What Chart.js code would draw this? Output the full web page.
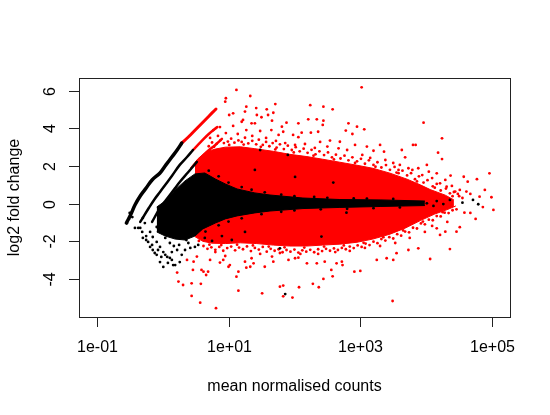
<!DOCTYPE html>
<html>
<head>
<meta charset="utf-8">
<script src="https://cdn.jsdelivr.net/npm/chart.js@4.4.1/dist/chart.umd.min.js"></script>
<style>
  html, body { margin: 0; padding: 0; background: #fff; }
  #wrap { width: 550px; height: 415px; }
</style>
</head>
<body>
<div id="wrap"><canvas id="ma" width="550" height="415"></canvas></div>
<script>
// every pair is [log10 of mean normalised count, log2 fold change]

// outline of the solid red cloud (significant genes)
var redCloudTop = [[0.42,1.90],[0.54,2.40],[0.66,2.75],[0.80,2.90],[0.95,3.00],[1.18,3.02],[1.40,2.92],[1.68,2.78],[1.93,2.62],[2.19,2.50],[2.43,2.36],[2.69,2.20],[2.95,2.04],[3.19,1.88],[3.45,1.62],[3.71,1.30],[3.91,1.00],[4.06,0.75],[4.29,0.45],[4.42,0.20]];
var redCloudBottom = [[0.49,-1.75],[0.61,-2.00],[0.75,-2.10],[0.95,-2.12],[1.18,-2.08],[1.43,-2.12],[1.68,-2.20],[1.93,-2.25],[2.19,-2.25],[2.43,-2.20],[2.69,-2.15],[2.95,-2.05],[3.19,-1.88],[3.45,-1.62],[3.68,-1.30],[3.91,-0.90],[4.13,-0.55],[4.33,-0.30],[4.45,-0.12]];

// outline of the solid black core (not significant)
var blackCoreTop = [[-0.09,-0.18],[0.04,0.14],[0.19,0.73],[0.34,1.21],[0.49,1.58],[0.64,1.63],[0.80,1.31],[0.95,1.05],[1.13,0.78],[1.40,0.57],[1.63,0.46],[2.13,0.30],[2.69,0.22],[3.30,0.20],[3.98,0.14]];
var blackCoreBottom = [[-0.09,-1.50],[0.04,-1.72],[0.19,-1.88],[0.34,-1.93],[0.49,-1.72],[0.61,-1.34],[0.80,-1.03],[0.95,-0.81],[1.13,-0.65],[1.40,-0.49],[1.63,-0.39],[2.13,-0.26],[2.69,-0.20],[3.30,-0.15],[3.98,-0.10]];

// low count bands (zero in one group)
var band1Black = [[-0.55,-1.03],[-0.48,-0.55],[-0.42,-0.07],[-0.34,0.41],[-0.25,0.83],[-0.16,1.26],[-0.04,1.63],[0.05,2.06],[0.14,2.48],[0.22,2.85],[0.29,3.22]];
var band1Red = [[0.29,3.22],[0.39,3.54],[0.48,3.86],[0.57,4.18],[0.66,4.50],[0.75,4.82],[0.81,5.03]];
var band2Black = [[-0.34,-0.97],[-0.21,-0.23],[-0.12,0.25],[-0.04,0.62],[0.05,1.05],[0.14,1.47],[0.26,2.06],[0.37,2.48],[0.46,2.85]];
var band2Red = [[0.46,2.85],[0.58,3.28],[0.70,3.70],[0.83,4.07]];
var band3Black = [[-0.16,-0.97],[-0.04,-0.23],[0.04,0.14],[0.11,0.46],[0.19,0.83],[0.26,1.15],[0.39,1.68],[0.52,2.22]];
var band3Red = [[0.52,2.22],[0.67,2.75],[0.80,3.12],[0.90,3.44]];

// single genes outside the solid areas
var redUp = [[3.02,6.18],[1.12,6.04],[1.33,5.72],[1.27,5.15],[1.25,4.89],[1.42,5.08],[1.43,4.71],[1.58,5.01],[1.71,5.29],[1.68,4.83],[2.24,5.23],[2.44,5.15],[2.58,5.01],[1.22,4.45],[1.40,4.27],[1.50,4.59],[1.66,4.41],[1.65,3.91],[1.81,4.09],[1.88,4.30],[2.06,4.27],[2.21,4.48],[2.34,4.48],[2.44,4.41],[2.43,4.18],[2.36,3.82],[2.25,3.77],[2.11,3.77],[2.06,3.53],[1.98,3.65],[1.83,3.82],[1.76,3.65],[2.82,4.27],[2.78,3.88],[2.95,4.09],[3.06,3.95],[2.88,3.70],[3.96,4.30],[4.24,3.47],[2.54,3.35],[2.69,3.29],[2.50,3.03],[2.67,2.94],[2.92,3.12],[2.80,2.85],[3.10,3.03],[3.20,2.81],[3.30,3.12],[3.36,2.76],[3.63,2.85],[3.80,3.12],[3.84,3.12],[3.68,2.46],[4.18,2.71],[4.24,2.37],[3.58,1.79],[3.73,1.88],[3.88,1.88],[4.01,2.06],[4.04,1.70],[4.16,1.61],[4.37,1.49],[4.57,1.43],[4.77,1.30],[4.96,1.61],[4.63,1.17],[4.44,0.64],[4.61,0.64],[4.81,0.37],[4.99,0.34],[4.31,0.90],[4.21,1.08],[0.96,5.60],[0.95,5.42],[1.07,4.80],[1.01,4.71],[1.60,4.71],[1.20,4.35],[1.35,4.27],[0.77,3.91],[0.87,4.07],[0.96,3.75],[1.07,4.13],[1.14,3.70],[1.27,3.91],[1.36,3.60],[1.48,3.86],[1.57,3.49],[0.72,3.49],[0.84,3.60],[1.72,3.33],[1.86,3.22],[2.01,3.12],[2.16,3.17],[2.31,2.96],[2.39,3.28],[3.03,2.59],[3.15,2.43],[3.38,2.32],[3.50,2.16],[3.60,2.06],[3.79,1.79],[3.94,1.52],[4.09,1.36],[4.29,1.26],[4.39,0.94],[4.51,0.73],[4.67,0.52],[4.48,0.52],[4.89,0.73]];
// ragged upper rim of the red cloud
var redUpRim = [[0.70,3.05],[0.75,3.25],[0.82,3.18],[0.88,3.38],[0.93,3.22],[0.99,3.30],[1.04,3.45],[1.09,3.24],[1.15,3.36],[1.20,3.28],[1.25,3.50],[1.30,3.20],[1.36,3.34],[1.42,3.15],[1.46,3.40],[1.52,3.12],[1.57,3.28],[1.62,3.05],[1.67,3.22],[1.73,2.98],[1.78,3.15],[1.84,2.90],[1.90,3.08],[1.96,2.85],[2.02,3.00],[2.08,2.78],[2.14,2.92],[2.20,2.70],[2.26,2.86],[2.32,2.62],[2.38,2.78],[2.45,2.58],[2.51,2.72],[2.57,2.46],[2.63,2.60],[2.70,2.40],[2.76,2.55],[2.82,2.30],[2.88,2.46],[2.95,2.25],[3.01,2.38],[3.07,2.12],[3.13,2.30],[3.20,2.06],[3.26,2.20],[3.32,1.92],[3.39,2.05],[3.45,1.80],[3.52,1.95],[3.58,1.62],[3.64,1.75],[3.71,1.50],[3.77,1.62],[3.83,1.30],[3.89,1.45],[3.96,1.12],[4.02,1.25],[4.10,0.92],[4.16,1.05],[4.22,0.70],[4.30,0.80],[4.36,0.55],[4.42,0.62],[4.50,0.40],[4.55,0.30],[0.78,3.02],[1.01,3.12],[1.23,3.14],[1.49,3.02],[1.71,2.88],[1.99,2.72],[2.29,2.55],[2.60,2.35],[2.92,2.16],[3.23,1.96],[3.55,1.65],[3.86,1.18],[4.13,0.85],[4.40,0.40]];
var redDown = [[5.02,-0.33],[4.75,-0.81],[4.51,-1.25],[4.36,-2.41],[4.06,-2.94],[4.21,-1.66],[3.88,-2.37],[3.49,-5.17],[3.00,-3.57],[2.91,-3.61],[2.58,-3.86],[2.56,-3.52],[2.44,-4.00],[2.37,-4.44],[2.28,-4.26],[2.07,-4.44],[1.97,-4.99],[1.83,-4.92],[1.83,-4.35],[1.51,-4.76],[1.27,-3.40],[1.25,-3.08],[1.38,-3.17],[1.55,-3.35],[1.35,-2.90],[1.68,-3.08],[1.91,-2.99],[2.19,-3.17],[2.34,-3.17],[2.46,-3.08],[2.64,-3.17],[2.72,-3.08],[1.66,-2.81],[2.01,-2.90],[2.06,-2.87],[3.25,-2.99],[3.40,-2.90],[3.50,-2.99],[3.55,-2.63],[3.73,-2.46],[0.22,-3.66],[0.24,-4.14],[0.31,-4.32],[0.44,-4.90],[0.57,-5.26],[0.81,-5.55],[0.44,-4.23],[0.58,-4.26],[0.46,-3.52],[0.62,-3.61],[0.66,-3.79],[1.12,-3.88],[1.15,-4.62],[1.78,-4.41],[0.87,-3.13],[1.00,-3.35],[1.33,-3.35],[0.37,-2.99],[0.52,-2.81],[0.72,-2.99],[0.59,-3.52],[0.69,-3.61],[0.47,-3.08],[1.15,-3.61],[0.92,-2.99],[1.02,-3.26],[4.58,-0.48],[4.46,-1.49],[4.29,-1.49],[4.16,-1.31],[2.73,-3.26],[0.80,-2.57],[0.95,-2.78],[1.48,-2.67],[1.78,-2.62],[2.09,-2.67],[2.36,-2.67],[2.62,-2.57],[2.84,-2.51],[3.07,-2.35],[3.30,-2.25],[3.53,-2.09],[3.75,-1.82],[3.98,-1.50],[4.09,-1.18],[4.32,-0.97],[4.67,-0.49],[4.86,-0.18]];
// ragged lower rim of the red cloud
var redDownRim = [[0.62,-2.25],[0.68,-2.40],[0.74,-2.32],[0.80,-2.45],[0.86,-2.30],[0.92,-2.50],[0.98,-2.36],[1.04,-2.28],[1.10,-2.48],[1.16,-2.33],[1.22,-2.42],[1.28,-2.27],[1.34,-2.52],[1.40,-2.35],[1.46,-2.44],[1.52,-2.30],[1.58,-2.55],[1.64,-2.40],[1.70,-2.50],[1.76,-2.42],[1.82,-2.58],[1.88,-2.46],[1.94,-2.55],[2.00,-2.44],[2.06,-2.60],[2.12,-2.48],[2.18,-2.55],[2.24,-2.45],[2.30,-2.58],[2.36,-2.42],[2.42,-2.52],[2.48,-2.40],[2.54,-2.50],[2.60,-2.38],[2.66,-2.46],[2.72,-2.35],[2.78,-2.42],[2.84,-2.28],[2.90,-2.36],[2.96,-2.22],[3.02,-2.30],[3.08,-2.12],[3.14,-2.20],[3.20,-2.02],[3.26,-2.10],[3.32,-1.88],[3.38,-1.96],[3.44,-1.78],[3.50,-1.85],[3.56,-1.62],[3.62,-1.70],[3.68,-1.48],[3.74,-1.52],[3.80,-1.28],[3.86,-1.32],[3.92,-1.05],[3.98,-1.10],[4.04,-0.85],[4.10,-0.88],[4.16,-0.66],[4.22,-0.68],[4.28,-0.48],[4.34,-0.50],[4.40,-0.35],[4.46,-0.30],[0.55,-1.98],[0.71,-2.18],[0.89,-2.20],[1.13,-2.18],[1.37,-2.22],[1.61,-2.28],[1.85,-2.32],[2.15,-2.33],[2.45,-2.28],[2.75,-2.22],[3.05,-2.08],[3.35,-1.78],[3.65,-1.42],[3.95,-0.95],[4.25,-0.45]];
var blackSingles = [[-0.54,-1.03],[-0.51,-0.81],[-0.50,-0.49],[-0.46,-0.71],[-0.30,-0.76],[-0.27,-1.03],[-0.31,-1.50],[-0.30,-1.82],[-0.22,-2.03],[-0.19,-2.30],[-0.15,-2.46],[-0.09,-2.72],[-0.04,-3.10],[0.01,-3.36],[-0.19,-1.50],[-0.15,-1.77],[-0.09,-2.03],[-0.04,-2.30],[0.01,-2.57],[0.07,-2.83],[0.14,-2.99],[0.19,-3.26],[-0.09,-1.24],[-0.01,-1.50],[0.04,-1.82],[0.11,-2.09],[0.22,-2.46],[0.29,-2.72],[0.08,-1.13],[0.22,-1.50],[0.29,-1.77],[0.39,-2.09],[0.49,-2.30],[-0.37,-1.29],[-0.42,-1.29],[-0.25,-1.72],[0.08,-3.15],[0.34,-2.46],[0.42,-2.35],[-0.12,-2.62],[0.16,-3.26],[-0.34,-1.29],[-0.25,-1.93],[-0.16,-2.19],[-0.07,-2.46],[-0.02,-2.83],[0.04,-2.72],[0.11,-2.88],[0.25,-2.19],[0.36,-1.93],[0.17,-2.25],[0.26,-3.10],[0.14,-2.57],[4.36,0.20],[4.55,0.05],[4.71,0.20],[4.79,-0.03],[4.26,-0.02],[4.11,-0.12],[4.01,0.02],[4.16,0.14],[2.79,-0.48],[2.59,1.12],[1.86,-4.80],[1.78,-2.37],[2.41,-1.75],[1.48,2.85],[1.90,2.59],[2.01,1.42],[1.40,1.79],[0.64,-1.82],[0.75,-1.98],[0.90,-1.72],[1.05,-1.93],[1.25,-1.50],[0.54,-2.19],[0.70,1.75],[0.85,1.45],[1.00,1.12],[1.20,0.88],[1.35,0.74],[1.55,0.60],[1.80,0.48],[2.00,0.40],[2.30,0.36],[2.50,0.31],[2.90,0.28],[3.10,0.27],[3.50,0.25],[0.65,-1.48],[0.85,-1.15],[1.00,-0.95],[1.20,-0.78],[1.50,-0.56],[1.80,-0.43],[2.00,-0.36],[2.40,-0.30],[2.80,-0.27],[3.20,-0.24],[3.60,-0.20]];

var xTicks = [0.1, 10, 1000, 100000];
var xTickLabels = ["1e-01", "1e+01", "1e+03", "1e+05"];
var yTicks = [-4, -2, 0, 2, 4, 6];
var yTickLabels = ["-4", "-2", "0", "2", "4", "6"];

const RED = "#ff0000";
const BLACK = "#000000";
const FONT = '16px "Liberation Sans", Arial, Helvetica, sans-serif';

function pts(list) {
    return list.map(function(p) { return {x: Math.pow(10, p[0]), y: p[1]}; });
}

function outline(list, color, fill, order) {
    return {data: pts(list), showLine: true, borderColor: color, backgroundColor: color, borderWidth: 1,
            pointRadius: 0, fill: fill, order: order};
}

function band(list, color, width) {
    return {data: pts(list), showLine: true, borderColor: color, borderWidth: width, tension: 0.4,
            borderCapStyle: "round", borderJoinStyle: "round", pointRadius: 0, fill: false, order: 1};
}

function dots(list, color, order) {
    return {data: pts(list), pointRadius: 1.4, pointBorderWidth: 0, pointBackgroundColor: color,
            backgroundColor: color, borderColor: color, order: order};
}

// R style box, ticks and labels
const rFrame = {
    id: "rFrame",
    afterDraw(chart) {
        const ctx = chart.ctx, a = chart.chartArea, sx = chart.scales.x, sy = chart.scales.y;
        ctx.save();
        ctx.strokeStyle = "#222";
        ctx.lineWidth = 1;
        ctx.strokeRect(a.left + 0.5, a.top + 0.5, a.right - a.left, a.bottom - a.top);
        ctx.fillStyle = BLACK;
        ctx.font = FONT;
        ctx.textAlign = "center";
        ctx.textBaseline = "alphabetic";
        xTicks.forEach(function(v, i) {
            let px = Math.round(sx.getPixelForValue(v)) + 0.5;
            ctx.beginPath(); ctx.moveTo(px, a.bottom); ctx.lineTo(px, a.bottom + 10); ctx.stroke();
            ctx.fillText(xTickLabels[i], px, a.bottom + 35);
        });
        yTicks.forEach(function(v, i) {
            let py = Math.round(sy.getPixelForValue(v)) + 0.5;
            ctx.beginPath(); ctx.moveTo(a.left - 10, py); ctx.lineTo(a.left, py); ctx.stroke();
            ctx.save();
            ctx.translate(a.left - 24, py);
            ctx.rotate(-Math.PI / 2);
            ctx.fillText(yTickLabels[i], 0, 0);
            ctx.restore();
        });
        ctx.fillText("mean normalised counts", (a.left + a.right) / 2, a.bottom + 74);
        ctx.translate(18.5, (a.top + a.bottom) / 2);
        ctx.rotate(-Math.PI / 2);
        ctx.fillText("log2 fold change", 0, 0);
        ctx.restore();
    }
};

new Chart(document.getElementById("ma"), {
    type: "scatter",
    data: {
        datasets: [
            outline(redCloudTop, RED, false, 6),
            outline(redCloudBottom, RED, "-1", 6),
            outline(blackCoreTop, BLACK, false, 5),
            outline(blackCoreBottom, BLACK, "-1", 5),
            dots(redUp, RED, 3),
            dots(redUpRim, RED, 3),
            dots(redDown, RED, 3),
            dots(redDownRim, RED, 3),
            dots(blackSingles, BLACK, 2),
            band(band1Black, BLACK, 3.5),
            band(band2Black, BLACK, 2.5),
            band(band3Black, BLACK, 2.5),
            band(band1Red, RED, 3),
            band(band2Red, RED, 2.5),
            band(band3Red, RED, 2.5)
        ]
    },
    options: {
        responsive: false,
        animation: false,
        events: [],
        layout: {padding: {left: 79, top: 78, right: 40, bottom: 98}},
        scales: {
            x: {type: "logarithmic", min: 0.0538, max: 187000, display: false},
            y: {type: "linear", min: -6.02, max: 6.675, display: false}
        },
        plugins: {legend: {display: false}, tooltip: {enabled: false}}
    },
    plugins: [rFrame]
});
</script>
</body>
</html>
